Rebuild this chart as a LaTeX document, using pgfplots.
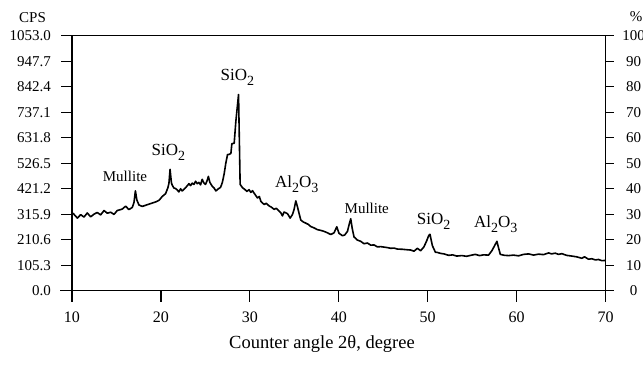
\documentclass[border=0pt]{standalone}
\usepackage{pgfplots}
\pgfplotsset{compat=1.18}
\usepackage{fontspec}
\setmainfont{Liberation Serif}
\newcommand{\sub}[1]{\raisebox{-0.3em}{\fontsize{14pt}{14pt}\selectfont #1}}
\begin{document}
\fontsize{15pt}{18pt}\selectfont
\begin{tikzpicture}
\begin{axis}[
  at={(72pt,82.3pt)}, anchor=south west,
  scale only axis, width=533.5pt, height=255pt,
  xmin=10, xmax=70, ymin=0, ymax=1053,
  axis line style={line width=1.3pt},
  every tick/.style={black, line width=1.3pt},
  tick align=outside,
  major tick length=11pt,
  xtick={10,20,30,40,50,60,70},
  xtick pos=left, ytick pos=left,
  ytick={0,105.3,210.6,315.9,421.2,526.5,631.8,737.1,842.4,947.7,1053},
  yticklabels={0.0,105.3,210.6,315.9,421.2,526.5,631.8,737.1,842.4,947.7,1053.0},
  /pgf/number format/assume math mode=true,
  yticklabel style={anchor=east, inner sep=0pt, xshift=-10pt},
  xticklabel style={anchor=north, inner sep=0pt, yshift=-10pt, font=\fontsize{16pt}{16pt}\selectfont},
  clip=false,
]
\addplot[black, line width=1.6pt, line join=round] coordinates {
(10.11,320)(10.60,300)(10.98,314)(11.35,304)(11.72,321)(12.10,305)(12.47,316)(12.84,323)
(13.22,313)(13.60,331)(13.97,320)(14.35,324)(14.72,315)(15.09,331)(15.65,337)(16.03,349)
(16.40,335)(16.78,344)(16.97,364)(17.13,412)(17.30,374)(17.53,354)(17.90,348)(18.46,355)
(19.02,362)(19.44,367)(19.78,373)(20.15,389)(20.53,401)(20.79,426)(20.90,443)(21.03,501)
(21.18,446)(21.27,436)(21.46,424)(21.65,422)(21.83,416)(22.02,408)(22.21,421)(22.39,412)
(22.58,418)(22.78,426)(22.96,433)(23.15,442)(23.34,434)(23.52,444)(23.71,439)(23.90,452)
(24.08,442)(24.27,447)(24.46,437)(24.64,460)(24.83,445)(25.02,439)(25.20,455)(25.34,472)
(25.51,447)(25.76,432)(25.96,425)(26.18,412)(26.40,419)(26.71,427)(26.91,447)(27.11,482)
(27.30,527)(27.49,562)(27.69,563)(27.87,567)(27.98,607)(28.24,609)(28.43,700)(28.73,810)
(28.91,439)(29.18,425)(29.44,418)(29.66,410)(29.92,417)(30.11,406)(30.30,413)(30.48,403)
(30.86,383)(31.07,389)(31.24,369)(31.61,356)(31.85,361)(32.17,350)(32.42,345)(32.73,336)
(32.98,340)(33.29,329)(33.48,322)(33.67,309)(33.85,325)(34.24,318)(34.53,300)(34.80,315)
(34.98,336)(35.17,371)(35.36,346)(35.54,319)(35.73,292)(36.01,284)(36.29,279)(36.57,274)
(36.85,265)(37.19,260)(37.61,252)(37.98,249)(38.35,245)(38.73,239)(39.10,232)(39.47,239)
(39.78,264)(40.03,237)(40.42,227)(40.67,230)(40.98,245)(41.18,275)(41.35,297)(41.52,256)
(41.72,222)(42.10,209)(42.47,204)(42.84,194)(43.22,197)(43.60,188)(43.97,189)(44.35,181)
(44.72,182)(45.09,180)(45.47,178)(45.84,175)(46.22,176)(46.60,172)(47.16,171)(47.72,169)
(48.09,168)(48.46,163)(48.84,175)(49.21,165)(49.58,181)(49.89,206)(50.11,227)(50.26,233)
(50.53,186)(50.87,159)(51.09,158)(51.46,154)(51.83,152)(52.36,146)(52.81,148)(53.26,143)
(53.85,145)(54.38,142)(54.83,146)(55.36,150)(55.84,145)(56.29,148)(56.85,147)(57.22,165)
(57.53,186)(57.79,204)(57.98,176)(58.17,150)(58.65,146)(59.10,145)(59.66,147)(60.22,144)
(60.79,150)(61.35,152)(61.91,147)(62.47,151)(63.03,149)(63.60,156)(63.93,152)(64.35,155)
(64.72,150)(65.09,153)(65.62,146)(66.21,143)(66.74,140)(67.34,134)(67.64,140)(68.09,130)
(68.46,132)(68.88,127)(69.21,129)(69.58,124)(70.00,125)
};
\node[anchor=base] at (axis cs:15.96,450) {Mullite};
\node[anchor=base, font=\fontsize{17pt}{17pt}\selectfont] at (axis cs:20.84,557) {SiO\sub{2}};
\node[anchor=base, font=\fontsize{17pt}{17pt}\selectfont] at (axis cs:28.60,867) {SiO\sub{2}};
\node[anchor=base, font=\fontsize{17pt}{17pt}\selectfont] at (axis cs:35.28,427) {Al\sub{2}O\sub{3}};
\node[anchor=base] at (axis cs:43.15,318) {Mullite};
\node[anchor=base, font=\fontsize{17pt}{17pt}\selectfont] at (axis cs:50.67,272) {SiO\sub{2}};
\node[anchor=base, font=\fontsize{17pt}{17pt}\selectfont] at (axis cs:57.66,260) {Al\sub{2}O\sub{3}};
\end{axis}
\begin{axis}[
  at={(72pt,82.3pt)}, anchor=south west,
  scale only axis, width=533.5pt, height=255pt,
  xmin=10, xmax=70, ymin=0, ymax=100,
  axis y line*=right, hide x axis,
  axis line style={line width=1.3pt},
  every tick/.style={black, line width=1.3pt},
  tick align=outside,
  major tick length=8pt,
  ytick={0,10,20,30,40,50,60,70,80,90,100},
  /pgf/number format/assume math mode=true,
  yticklabel style={anchor=center, inner sep=0pt, xshift=20pt},
]
\end{axis}
\draw[line width=1.3pt] (63pt,337.3pt) -- (72pt,337.3pt);
\draw[line width=1.3pt] (60pt,82.3pt) -- (72pt,82.3pt);
\node[anchor=base] at (32.5pt,350.3pt) {CPS};
\node[anchor=base] at (636pt,351pt) {\%};
\node[anchor=base, font=\fontsize{18.5pt}{18.5pt}\selectfont] at (322pt,24.5pt) {Counter angle 2θ, degree};
\pgfresetboundingbox
\useasboundingbox (0pt,0pt) rectangle (643pt,373pt);
\end{tikzpicture}
\end{document}
